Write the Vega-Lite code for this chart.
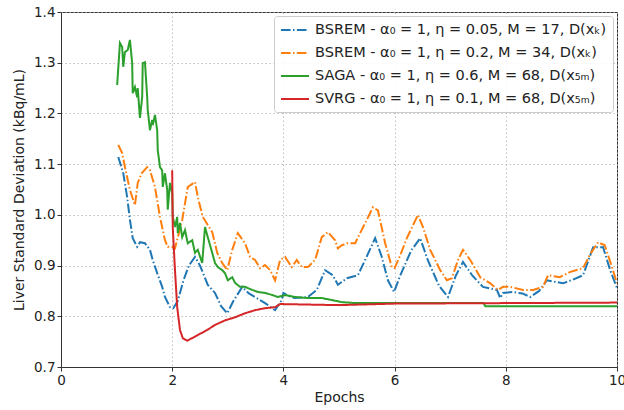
{
  "$schema": "https://vega.github.io/schema/vega-lite/v6.json",
  "width": 556,
  "height": 355,
  "autosize": "none",
  "padding": {"left": 61, "top": 12, "right": 7, "bottom": 43},
  "config": {
    "font": "DejaVu Sans",
    "view": {"stroke": "#333333", "strokeWidth": 1},
    "axis": {
      "labelFont": "DejaVu Sans", "labelFontSize": 13.5, "labelColor": "#222222",
      "titleFont": "DejaVu Sans", "titleFontSize": 14, "titleFontWeight": "normal", "titleColor": "#222222",
      "domainColor": "#333333", "tickColor": "#333333", "tickSize": 4,
      "gridColor": "#b0b0b0", "gridDash": [1.5, 2.5], "gridWidth": 0.8
    },
    "legend": {
      "orient": "top-right", "offset": 4, "title": null,
      "fillColor": "rgba(255,255,255,0.85)", "strokeColor": "#cccccc", "cornerRadius": 3,
      "padding": 6, "labelFont": "DejaVu Sans", "labelFontSize": 14.5, "labelColor": "#222222",
      "symbolType": "M-1,0H3", "symbolSize": 196, "symbolStrokeWidth": 2, "rowPadding": 8, "labelOffset": 19,
      "labelLimit": 400
    }
  },
  "data": {"values": [
    {"s":"BSREM - α₀ = 1, η = 0.05, M = 17, D(xₖ)","x":1.03,"y":1.114},
    {"s":"BSREM - α₀ = 1, η = 0.05, M = 17, D(xₖ)","x":1.12,"y":1.082},
    {"s":"BSREM - α₀ = 1, η = 0.05, M = 17, D(xₖ)","x":1.19,"y":1.035},
    {"s":"BSREM - α₀ = 1, η = 0.05, M = 17, D(xₖ)","x":1.24,"y":0.99},
    {"s":"BSREM - α₀ = 1, η = 0.05, M = 17, D(xₖ)","x":1.29,"y":0.954},
    {"s":"BSREM - α₀ = 1, η = 0.05, M = 17, D(xₖ)","x":1.37,"y":0.937},
    {"s":"BSREM - α₀ = 1, η = 0.05, M = 17, D(xₖ)","x":1.42,"y":0.946},
    {"s":"BSREM - α₀ = 1, η = 0.05, M = 17, D(xₖ)","x":1.51,"y":0.944},
    {"s":"BSREM - α₀ = 1, η = 0.05, M = 17, D(xₖ)","x":1.6,"y":0.931},
    {"s":"BSREM - α₀ = 1, η = 0.05, M = 17, D(xₖ)","x":1.65,"y":0.911},
    {"s":"BSREM - α₀ = 1, η = 0.05, M = 17, D(xₖ)","x":1.73,"y":0.885},
    {"s":"BSREM - α₀ = 1, η = 0.05, M = 17, D(xₖ)","x":1.82,"y":0.858},
    {"s":"BSREM - α₀ = 1, η = 0.05, M = 17, D(xₖ)","x":1.87,"y":0.838},
    {"s":"BSREM - α₀ = 1, η = 0.05, M = 17, D(xₖ)","x":1.96,"y":0.818},
    {"s":"BSREM - α₀ = 1, η = 0.05, M = 17, D(xₖ)","x":2.02,"y":0.816},
    {"s":"BSREM - α₀ = 1, η = 0.05, M = 17, D(xₖ)","x":2.1,"y":0.83},
    {"s":"BSREM - α₀ = 1, η = 0.05, M = 17, D(xₖ)","x":2.2,"y":0.87},
    {"s":"BSREM - α₀ = 1, η = 0.05, M = 17, D(xₖ)","x":2.3,"y":0.9},
    {"s":"BSREM - α₀ = 1, η = 0.05, M = 17, D(xₖ)","x":2.41,"y":0.917},
    {"s":"BSREM - α₀ = 1, η = 0.05, M = 17, D(xₖ)","x":2.5,"y":0.9},
    {"s":"BSREM - α₀ = 1, η = 0.05, M = 17, D(xₖ)","x":2.64,"y":0.862},
    {"s":"BSREM - α₀ = 1, η = 0.05, M = 17, D(xₖ)","x":2.77,"y":0.846},
    {"s":"BSREM - α₀ = 1, η = 0.05, M = 17, D(xₖ)","x":2.88,"y":0.82},
    {"s":"BSREM - α₀ = 1, η = 0.05, M = 17, D(xₖ)","x":2.99,"y":0.806},
    {"s":"BSREM - α₀ = 1, η = 0.05, M = 17, D(xₖ)","x":3.1,"y":0.83},
    {"s":"BSREM - α₀ = 1, η = 0.05, M = 17, D(xₖ)","x":3.26,"y":0.858},
    {"s":"BSREM - α₀ = 1, η = 0.05, M = 17, D(xₖ)","x":3.38,"y":0.845},
    {"s":"BSREM - α₀ = 1, η = 0.05, M = 17, D(xₖ)","x":3.49,"y":0.838},
    {"s":"BSREM - α₀ = 1, η = 0.05, M = 17, D(xₖ)","x":3.67,"y":0.826},
    {"s":"BSREM - α₀ = 1, η = 0.05, M = 17, D(xₖ)","x":3.85,"y":0.812},
    {"s":"BSREM - α₀ = 1, η = 0.05, M = 17, D(xₖ)","x":3.97,"y":0.832},
    {"s":"BSREM - α₀ = 1, η = 0.05, M = 17, D(xₖ)","x":4.0,"y":0.846},
    {"s":"BSREM - α₀ = 1, η = 0.05, M = 17, D(xₖ)","x":4.1,"y":0.84},
    {"s":"BSREM - α₀ = 1, η = 0.05, M = 17, D(xₖ)","x":4.2,"y":0.836},
    {"s":"BSREM - α₀ = 1, η = 0.05, M = 17, D(xₖ)","x":4.44,"y":0.838},
    {"s":"BSREM - α₀ = 1, η = 0.05, M = 17, D(xₖ)","x":4.6,"y":0.852},
    {"s":"BSREM - α₀ = 1, η = 0.05, M = 17, D(xₖ)","x":4.75,"y":0.891},
    {"s":"BSREM - α₀ = 1, η = 0.05, M = 17, D(xₖ)","x":4.89,"y":0.881},
    {"s":"BSREM - α₀ = 1, η = 0.05, M = 17, D(xₖ)","x":4.98,"y":0.862},
    {"s":"BSREM - α₀ = 1, η = 0.05, M = 17, D(xₖ)","x":5.14,"y":0.875},
    {"s":"BSREM - α₀ = 1, η = 0.05, M = 17, D(xₖ)","x":5.34,"y":0.881},
    {"s":"BSREM - α₀ = 1, η = 0.05, M = 17, D(xₖ)","x":5.47,"y":0.911},
    {"s":"BSREM - α₀ = 1, η = 0.05, M = 17, D(xₖ)","x":5.65,"y":0.954},
    {"s":"BSREM - α₀ = 1, η = 0.05, M = 17, D(xₖ)","x":5.77,"y":0.917},
    {"s":"BSREM - α₀ = 1, η = 0.05, M = 17, D(xₖ)","x":5.88,"y":0.871},
    {"s":"BSREM - α₀ = 1, η = 0.05, M = 17, D(xₖ)","x":5.99,"y":0.848},
    {"s":"BSREM - α₀ = 1, η = 0.05, M = 17, D(xₖ)","x":6.1,"y":0.88},
    {"s":"BSREM - α₀ = 1, η = 0.05, M = 17, D(xₖ)","x":6.3,"y":0.93},
    {"s":"BSREM - α₀ = 1, η = 0.05, M = 17, D(xₖ)","x":6.46,"y":0.954},
    {"s":"BSREM - α₀ = 1, η = 0.05, M = 17, D(xₖ)","x":6.6,"y":0.91},
    {"s":"BSREM - α₀ = 1, η = 0.05, M = 17, D(xₖ)","x":6.8,"y":0.86},
    {"s":"BSREM - α₀ = 1, η = 0.05, M = 17, D(xₖ)","x":6.96,"y":0.838},
    {"s":"BSREM - α₀ = 1, η = 0.05, M = 17, D(xₖ)","x":7.1,"y":0.88},
    {"s":"BSREM - α₀ = 1, η = 0.05, M = 17, D(xₖ)","x":7.23,"y":0.907},
    {"s":"BSREM - α₀ = 1, η = 0.05, M = 17, D(xₖ)","x":7.4,"y":0.88},
    {"s":"BSREM - α₀ = 1, η = 0.05, M = 17, D(xₖ)","x":7.59,"y":0.858},
    {"s":"BSREM - α₀ = 1, η = 0.05, M = 17, D(xₖ)","x":7.84,"y":0.852},
    {"s":"BSREM - α₀ = 1, η = 0.05, M = 17, D(xₖ)","x":7.9,"y":0.836},
    {"s":"BSREM - α₀ = 1, η = 0.05, M = 17, D(xₖ)","x":7.95,"y":0.846},
    {"s":"BSREM - α₀ = 1, η = 0.05, M = 17, D(xₖ)","x":8.11,"y":0.848},
    {"s":"BSREM - α₀ = 1, η = 0.05, M = 17, D(xₖ)","x":8.3,"y":0.845},
    {"s":"BSREM - α₀ = 1, η = 0.05, M = 17, D(xₖ)","x":8.44,"y":0.838},
    {"s":"BSREM - α₀ = 1, η = 0.05, M = 17, D(xₖ)","x":8.6,"y":0.85},
    {"s":"BSREM - α₀ = 1, η = 0.05, M = 17, D(xₖ)","x":8.74,"y":0.871},
    {"s":"BSREM - α₀ = 1, η = 0.05, M = 17, D(xₖ)","x":9.03,"y":0.865},
    {"s":"BSREM - α₀ = 1, η = 0.05, M = 17, D(xₖ)","x":9.2,"y":0.872},
    {"s":"BSREM - α₀ = 1, η = 0.05, M = 17, D(xₖ)","x":9.39,"y":0.881},
    {"s":"BSREM - α₀ = 1, η = 0.05, M = 17, D(xₖ)","x":9.57,"y":0.936},
    {"s":"BSREM - α₀ = 1, η = 0.05, M = 17, D(xₖ)","x":9.75,"y":0.936},
    {"s":"BSREM - α₀ = 1, η = 0.05, M = 17, D(xₖ)","x":9.88,"y":0.89},
    {"s":"BSREM - α₀ = 1, η = 0.05, M = 17, D(xₖ)","x":10.0,"y":0.856},

    {"s":"BSREM - α₀ = 1, η = 0.2, M = 34, D(xₖ)","x":1.03,"y":1.138},
    {"s":"BSREM - α₀ = 1, η = 0.2, M = 34, D(xₖ)","x":1.1,"y":1.122},
    {"s":"BSREM - α₀ = 1, η = 0.2, M = 34, D(xₖ)","x":1.15,"y":1.094},
    {"s":"BSREM - α₀ = 1, η = 0.2, M = 34, D(xₖ)","x":1.24,"y":1.049},
    {"s":"BSREM - α₀ = 1, η = 0.2, M = 34, D(xₖ)","x":1.33,"y":1.019},
    {"s":"BSREM - α₀ = 1, η = 0.2, M = 34, D(xₖ)","x":1.38,"y":1.063},
    {"s":"BSREM - α₀ = 1, η = 0.2, M = 34, D(xₖ)","x":1.45,"y":1.082},
    {"s":"BSREM - α₀ = 1, η = 0.2, M = 34, D(xₖ)","x":1.55,"y":1.094},
    {"s":"BSREM - α₀ = 1, η = 0.2, M = 34, D(xₖ)","x":1.6,"y":1.088},
    {"s":"BSREM - α₀ = 1, η = 0.2, M = 34, D(xₖ)","x":1.69,"y":1.055},
    {"s":"BSREM - α₀ = 1, η = 0.2, M = 34, D(xₖ)","x":1.78,"y":0.996},
    {"s":"BSREM - α₀ = 1, η = 0.2, M = 34, D(xₖ)","x":1.87,"y":0.95},
    {"s":"BSREM - α₀ = 1, η = 0.2, M = 34, D(xₖ)","x":1.92,"y":0.937},
    {"s":"BSREM - α₀ = 1, η = 0.2, M = 34, D(xₖ)","x":1.99,"y":0.937},
    {"s":"BSREM - α₀ = 1, η = 0.2, M = 34, D(xₖ)","x":2.05,"y":0.934},
    {"s":"BSREM - α₀ = 1, η = 0.2, M = 34, D(xₖ)","x":2.1,"y":0.955},
    {"s":"BSREM - α₀ = 1, η = 0.2, M = 34, D(xₖ)","x":2.18,"y":0.99},
    {"s":"BSREM - α₀ = 1, η = 0.2, M = 34, D(xₖ)","x":2.28,"y":1.055},
    {"s":"BSREM - α₀ = 1, η = 0.2, M = 34, D(xₖ)","x":2.41,"y":1.065},
    {"s":"BSREM - α₀ = 1, η = 0.2, M = 34, D(xₖ)","x":2.46,"y":1.035},
    {"s":"BSREM - α₀ = 1, η = 0.2, M = 34, D(xₖ)","x":2.55,"y":0.996},
    {"s":"BSREM - α₀ = 1, η = 0.2, M = 34, D(xₖ)","x":2.72,"y":0.966},
    {"s":"BSREM - α₀ = 1, η = 0.2, M = 34, D(xₖ)","x":2.81,"y":0.925},
    {"s":"BSREM - α₀ = 1, η = 0.2, M = 34, D(xₖ)","x":2.9,"y":0.905},
    {"s":"BSREM - α₀ = 1, η = 0.2, M = 34, D(xₖ)","x":2.99,"y":0.891},
    {"s":"BSREM - α₀ = 1, η = 0.2, M = 34, D(xₖ)","x":3.08,"y":0.931},
    {"s":"BSREM - α₀ = 1, η = 0.2, M = 34, D(xₖ)","x":3.18,"y":0.964},
    {"s":"BSREM - α₀ = 1, η = 0.2, M = 34, D(xₖ)","x":3.31,"y":0.944},
    {"s":"BSREM - α₀ = 1, η = 0.2, M = 34, D(xₖ)","x":3.4,"y":0.917},
    {"s":"BSREM - α₀ = 1, η = 0.2, M = 34, D(xₖ)","x":3.49,"y":0.911},
    {"s":"BSREM - α₀ = 1, η = 0.2, M = 34, D(xₖ)","x":3.58,"y":0.895},
    {"s":"BSREM - α₀ = 1, η = 0.2, M = 34, D(xₖ)","x":3.67,"y":0.901},
    {"s":"BSREM - α₀ = 1, η = 0.2, M = 34, D(xₖ)","x":3.76,"y":0.891},
    {"s":"BSREM - α₀ = 1, η = 0.2, M = 34, D(xₖ)","x":3.85,"y":0.871},
    {"s":"BSREM - α₀ = 1, η = 0.2, M = 34, D(xₖ)","x":3.94,"y":0.911},
    {"s":"BSREM - α₀ = 1, η = 0.2, M = 34, D(xₖ)","x":4.03,"y":0.917},
    {"s":"BSREM - α₀ = 1, η = 0.2, M = 34, D(xₖ)","x":4.15,"y":0.897},
    {"s":"BSREM - α₀ = 1, η = 0.2, M = 34, D(xₖ)","x":4.24,"y":0.911},
    {"s":"BSREM - α₀ = 1, η = 0.2, M = 34, D(xₖ)","x":4.33,"y":0.897},
    {"s":"BSREM - α₀ = 1, η = 0.2, M = 34, D(xₖ)","x":4.44,"y":0.897},
    {"s":"BSREM - α₀ = 1, η = 0.2, M = 34, D(xₖ)","x":4.57,"y":0.911},
    {"s":"BSREM - α₀ = 1, η = 0.2, M = 34, D(xₖ)","x":4.69,"y":0.956},
    {"s":"BSREM - α₀ = 1, η = 0.2, M = 34, D(xₖ)","x":4.8,"y":0.966},
    {"s":"BSREM - α₀ = 1, η = 0.2, M = 34, D(xₖ)","x":4.93,"y":0.95},
    {"s":"BSREM - α₀ = 1, η = 0.2, M = 34, D(xₖ)","x":4.98,"y":0.934},
    {"s":"BSREM - α₀ = 1, η = 0.2, M = 34, D(xₖ)","x":5.05,"y":0.94},
    {"s":"BSREM - α₀ = 1, η = 0.2, M = 34, D(xₖ)","x":5.14,"y":0.944},
    {"s":"BSREM - α₀ = 1, η = 0.2, M = 34, D(xₖ)","x":5.29,"y":0.944},
    {"s":"BSREM - α₀ = 1, η = 0.2, M = 34, D(xₖ)","x":5.38,"y":0.964},
    {"s":"BSREM - α₀ = 1, η = 0.2, M = 34, D(xₖ)","x":5.5,"y":0.99},
    {"s":"BSREM - α₀ = 1, η = 0.2, M = 34, D(xₖ)","x":5.61,"y":1.015},
    {"s":"BSREM - α₀ = 1, η = 0.2, M = 34, D(xₖ)","x":5.7,"y":1.009},
    {"s":"BSREM - α₀ = 1, η = 0.2, M = 34, D(xₖ)","x":5.83,"y":0.944},
    {"s":"BSREM - α₀ = 1, η = 0.2, M = 34, D(xₖ)","x":5.95,"y":0.897},
    {"s":"BSREM - α₀ = 1, η = 0.2, M = 34, D(xₖ)","x":6.0,"y":0.895},
    {"s":"BSREM - α₀ = 1, η = 0.2, M = 34, D(xₖ)","x":6.1,"y":0.92},
    {"s":"BSREM - α₀ = 1, η = 0.2, M = 34, D(xₖ)","x":6.22,"y":0.954},
    {"s":"BSREM - α₀ = 1, η = 0.2, M = 34, D(xₖ)","x":6.42,"y":1.0},
    {"s":"BSREM - α₀ = 1, η = 0.2, M = 34, D(xₖ)","x":6.51,"y":0.976},
    {"s":"BSREM - α₀ = 1, η = 0.2, M = 34, D(xₖ)","x":6.64,"y":0.931},
    {"s":"BSREM - α₀ = 1, η = 0.2, M = 34, D(xₖ)","x":6.82,"y":0.891},
    {"s":"BSREM - α₀ = 1, η = 0.2, M = 34, D(xₖ)","x":6.94,"y":0.871},
    {"s":"BSREM - α₀ = 1, η = 0.2, M = 34, D(xₖ)","x":7.03,"y":0.875},
    {"s":"BSREM - α₀ = 1, η = 0.2, M = 34, D(xₖ)","x":7.14,"y":0.911},
    {"s":"BSREM - α₀ = 1, η = 0.2, M = 34, D(xₖ)","x":7.23,"y":0.931},
    {"s":"BSREM - α₀ = 1, η = 0.2, M = 34, D(xₖ)","x":7.36,"y":0.911},
    {"s":"BSREM - α₀ = 1, η = 0.2, M = 34, D(xₖ)","x":7.54,"y":0.877},
    {"s":"BSREM - α₀ = 1, η = 0.2, M = 34, D(xₖ)","x":7.72,"y":0.865},
    {"s":"BSREM - α₀ = 1, η = 0.2, M = 34, D(xₖ)","x":7.86,"y":0.852},
    {"s":"BSREM - α₀ = 1, η = 0.2, M = 34, D(xₖ)","x":7.95,"y":0.858},
    {"s":"BSREM - α₀ = 1, η = 0.2, M = 34, D(xₖ)","x":8.08,"y":0.858},
    {"s":"BSREM - α₀ = 1, η = 0.2, M = 34, D(xₖ)","x":8.31,"y":0.852},
    {"s":"BSREM - α₀ = 1, η = 0.2, M = 34, D(xₖ)","x":8.49,"y":0.852},
    {"s":"BSREM - α₀ = 1, η = 0.2, M = 34, D(xₖ)","x":8.67,"y":0.858},
    {"s":"BSREM - α₀ = 1, η = 0.2, M = 34, D(xₖ)","x":8.76,"y":0.881},
    {"s":"BSREM - α₀ = 1, η = 0.2, M = 34, D(xₖ)","x":8.97,"y":0.877},
    {"s":"BSREM - α₀ = 1, η = 0.2, M = 34, D(xₖ)","x":9.15,"y":0.887},
    {"s":"BSREM - α₀ = 1, η = 0.2, M = 34, D(xₖ)","x":9.39,"y":0.895},
    {"s":"BSREM - α₀ = 1, η = 0.2, M = 34, D(xₖ)","x":9.51,"y":0.921},
    {"s":"BSREM - α₀ = 1, η = 0.2, M = 34, D(xₖ)","x":9.66,"y":0.946},
    {"s":"BSREM - α₀ = 1, η = 0.2, M = 34, D(xₖ)","x":9.78,"y":0.94},
    {"s":"BSREM - α₀ = 1, η = 0.2, M = 34, D(xₖ)","x":9.91,"y":0.897},
    {"s":"BSREM - α₀ = 1, η = 0.2, M = 34, D(xₖ)","x":10.0,"y":0.865},

    {"s":"SAGA - α₀ = 1, η = 0.6, M = 68, D(x₅ₘ)","x":1.01,"y":1.256},
    {"s":"SAGA - α₀ = 1, η = 0.6, M = 68, D(x₅ₘ)","x":1.06,"y":1.339},
    {"s":"SAGA - α₀ = 1, η = 0.6, M = 68, D(x₅ₘ)","x":1.1,"y":1.331},
    {"s":"SAGA - α₀ = 1, η = 0.6, M = 68, D(x₅ₘ)","x":1.12,"y":1.292},
    {"s":"SAGA - α₀ = 1, η = 0.6, M = 68, D(x₅ₘ)","x":1.15,"y":1.321},
    {"s":"SAGA - α₀ = 1, η = 0.6, M = 68, D(x₅ₘ)","x":1.2,"y":1.325},
    {"s":"SAGA - α₀ = 1, η = 0.6, M = 68, D(x₅ₘ)","x":1.24,"y":1.345},
    {"s":"SAGA - α₀ = 1, η = 0.6, M = 68, D(x₅ₘ)","x":1.28,"y":1.299},
    {"s":"SAGA - α₀ = 1, η = 0.6, M = 68, D(x₅ₘ)","x":1.29,"y":1.24},
    {"s":"SAGA - α₀ = 1, η = 0.6, M = 68, D(x₅ₘ)","x":1.33,"y":1.252},
    {"s":"SAGA - α₀ = 1, η = 0.6, M = 68, D(x₅ₘ)","x":1.37,"y":1.232},
    {"s":"SAGA - α₀ = 1, η = 0.6, M = 68, D(x₅ₘ)","x":1.38,"y":1.25},
    {"s":"SAGA - α₀ = 1, η = 0.6, M = 68, D(x₅ₘ)","x":1.42,"y":1.191},
    {"s":"SAGA - α₀ = 1, η = 0.6, M = 68, D(x₅ₘ)","x":1.46,"y":1.232},
    {"s":"SAGA - α₀ = 1, η = 0.6, M = 68, D(x₅ₘ)","x":1.47,"y":1.299},
    {"s":"SAGA - α₀ = 1, η = 0.6, M = 68, D(x₅ₘ)","x":1.51,"y":1.301},
    {"s":"SAGA - α₀ = 1, η = 0.6, M = 68, D(x₅ₘ)","x":1.55,"y":1.232},
    {"s":"SAGA - α₀ = 1, η = 0.6, M = 68, D(x₅ₘ)","x":1.56,"y":1.207},
    {"s":"SAGA - α₀ = 1, η = 0.6, M = 68, D(x₅ₘ)","x":1.6,"y":1.167},
    {"s":"SAGA - α₀ = 1, η = 0.6, M = 68, D(x₅ₘ)","x":1.64,"y":1.187},
    {"s":"SAGA - α₀ = 1, η = 0.6, M = 68, D(x₅ₘ)","x":1.65,"y":1.177},
    {"s":"SAGA - α₀ = 1, η = 0.6, M = 68, D(x₅ₘ)","x":1.69,"y":1.197},
    {"s":"SAGA - α₀ = 1, η = 0.6, M = 68, D(x₅ₘ)","x":1.73,"y":1.167},
    {"s":"SAGA - α₀ = 1, η = 0.6, M = 68, D(x₅ₘ)","x":1.74,"y":1.128},
    {"s":"SAGA - α₀ = 1, η = 0.6, M = 68, D(x₅ₘ)","x":1.78,"y":1.094},
    {"s":"SAGA - α₀ = 1, η = 0.6, M = 68, D(x₅ₘ)","x":1.82,"y":1.088},
    {"s":"SAGA - α₀ = 1, η = 0.6, M = 68, D(x₅ₘ)","x":1.83,"y":1.055},
    {"s":"SAGA - α₀ = 1, η = 0.6, M = 68, D(x₅ₘ)","x":1.87,"y":1.082},
    {"s":"SAGA - α₀ = 1, η = 0.6, M = 68, D(x₅ₘ)","x":1.91,"y":1.049},
    {"s":"SAGA - α₀ = 1, η = 0.6, M = 68, D(x₅ₘ)","x":1.92,"y":1.01},
    {"s":"SAGA - α₀ = 1, η = 0.6, M = 68, D(x₅ₘ)","x":1.96,"y":1.063},
    {"s":"SAGA - α₀ = 1, η = 0.6, M = 68, D(x₅ₘ)","x":2.0,"y":1.043},
    {"s":"SAGA - α₀ = 1, η = 0.6, M = 68, D(x₅ₘ)","x":2.01,"y":0.996},
    {"s":"SAGA - α₀ = 1, η = 0.6, M = 68, D(x₅ₘ)","x":2.05,"y":0.976},
    {"s":"SAGA - α₀ = 1, η = 0.6, M = 68, D(x₅ₘ)","x":2.09,"y":0.996},
    {"s":"SAGA - α₀ = 1, η = 0.6, M = 68, D(x₅ₘ)","x":2.1,"y":0.964},
    {"s":"SAGA - α₀ = 1, η = 0.6, M = 68, D(x₅ₘ)","x":2.14,"y":0.984},
    {"s":"SAGA - α₀ = 1, η = 0.6, M = 68, D(x₅ₘ)","x":2.18,"y":0.956},
    {"s":"SAGA - α₀ = 1, η = 0.6, M = 68, D(x₅ₘ)","x":2.23,"y":0.97},
    {"s":"SAGA - α₀ = 1, η = 0.6, M = 68, D(x₅ₘ)","x":2.28,"y":0.944},
    {"s":"SAGA - α₀ = 1, η = 0.6, M = 68, D(x₅ₘ)","x":2.36,"y":0.95},
    {"s":"SAGA - α₀ = 1, η = 0.6, M = 68, D(x₅ₘ)","x":2.41,"y":0.925},
    {"s":"SAGA - α₀ = 1, η = 0.6, M = 68, D(x₅ₘ)","x":2.46,"y":0.931},
    {"s":"SAGA - α₀ = 1, η = 0.6, M = 68, D(x₅ₘ)","x":2.54,"y":0.905},
    {"s":"SAGA - α₀ = 1, η = 0.6, M = 68, D(x₅ₘ)","x":2.59,"y":0.976},
    {"s":"SAGA - α₀ = 1, η = 0.6, M = 68, D(x₅ₘ)","x":2.64,"y":0.956},
    {"s":"SAGA - α₀ = 1, η = 0.6, M = 68, D(x₅ₘ)","x":2.72,"y":0.925},
    {"s":"SAGA - α₀ = 1, η = 0.6, M = 68, D(x₅ₘ)","x":2.77,"y":0.905},
    {"s":"SAGA - α₀ = 1, η = 0.6, M = 68, D(x₅ₘ)","x":2.82,"y":0.897},
    {"s":"SAGA - α₀ = 1, η = 0.6, M = 68, D(x₅ₘ)","x":2.9,"y":0.891},
    {"s":"SAGA - α₀ = 1, η = 0.6, M = 68, D(x₅ₘ)","x":2.95,"y":0.885},
    {"s":"SAGA - α₀ = 1, η = 0.6, M = 68, D(x₅ₘ)","x":3.0,"y":0.871},
    {"s":"SAGA - α₀ = 1, η = 0.6, M = 68, D(x₅ₘ)","x":3.08,"y":0.877},
    {"s":"SAGA - α₀ = 1, η = 0.6, M = 68, D(x₅ₘ)","x":3.13,"y":0.866},
    {"s":"SAGA - α₀ = 1, η = 0.6, M = 68, D(x₅ₘ)","x":3.22,"y":0.858},
    {"s":"SAGA - α₀ = 1, η = 0.6, M = 68, D(x₅ₘ)","x":3.31,"y":0.858},
    {"s":"SAGA - α₀ = 1, η = 0.6, M = 68, D(x₅ₘ)","x":3.44,"y":0.852},
    {"s":"SAGA - α₀ = 1, η = 0.6, M = 68, D(x₅ₘ)","x":3.54,"y":0.848},
    {"s":"SAGA - α₀ = 1, η = 0.6, M = 68, D(x₅ₘ)","x":3.67,"y":0.846},
    {"s":"SAGA - α₀ = 1, η = 0.6, M = 68, D(x₅ₘ)","x":3.8,"y":0.842},
    {"s":"SAGA - α₀ = 1, η = 0.6, M = 68, D(x₅ₘ)","x":3.9,"y":0.838},
    {"s":"SAGA - α₀ = 1, η = 0.6, M = 68, D(x₅ₘ)","x":4.03,"y":0.842},
    {"s":"SAGA - α₀ = 1, η = 0.6, M = 68, D(x₅ₘ)","x":4.21,"y":0.838},
    {"s":"SAGA - α₀ = 1, η = 0.6, M = 68, D(x₅ₘ)","x":4.44,"y":0.836},
    {"s":"SAGA - α₀ = 1, η = 0.6, M = 68, D(x₅ₘ)","x":4.69,"y":0.836},
    {"s":"SAGA - α₀ = 1, η = 0.6, M = 68, D(x₅ₘ)","x":4.87,"y":0.832},
    {"s":"SAGA - α₀ = 1, η = 0.6, M = 68, D(x₅ₘ)","x":5.05,"y":0.828},
    {"s":"SAGA - α₀ = 1, η = 0.6, M = 68, D(x₅ₘ)","x":5.29,"y":0.826},
    {"s":"SAGA - α₀ = 1, η = 0.6, M = 68, D(x₅ₘ)","x":5.6,"y":0.826},
    {"s":"SAGA - α₀ = 1, η = 0.6, M = 68, D(x₅ₘ)","x":6.0,"y":0.826},
    {"s":"SAGA - α₀ = 1, η = 0.6, M = 68, D(x₅ₘ)","x":7.0,"y":0.826},
    {"s":"SAGA - α₀ = 1, η = 0.6, M = 68, D(x₅ₘ)","x":7.6,"y":0.826},
    {"s":"SAGA - α₀ = 1, η = 0.6, M = 68, D(x₅ₘ)","x":7.63,"y":0.82},
    {"s":"SAGA - α₀ = 1, η = 0.6, M = 68, D(x₅ₘ)","x":8.5,"y":0.82},
    {"s":"SAGA - α₀ = 1, η = 0.6, M = 68, D(x₅ₘ)","x":10.0,"y":0.82},

    {"s":"SVRG - α₀ = 1, η = 0.1, M = 68, D(x₅ₘ)","x":2.0,"y":1.088},
    {"s":"SVRG - α₀ = 1, η = 0.1, M = 68, D(x₅ₘ)","x":2.01,"y":0.976},
    {"s":"SVRG - α₀ = 1, η = 0.1, M = 68, D(x₅ₘ)","x":2.05,"y":0.891},
    {"s":"SVRG - α₀ = 1, η = 0.1, M = 68, D(x₅ₘ)","x":2.09,"y":0.818},
    {"s":"SVRG - α₀ = 1, η = 0.1, M = 68, D(x₅ₘ)","x":2.14,"y":0.773},
    {"s":"SVRG - α₀ = 1, η = 0.1, M = 68, D(x₅ₘ)","x":2.19,"y":0.757},
    {"s":"SVRG - α₀ = 1, η = 0.1, M = 68, D(x₅ₘ)","x":2.27,"y":0.752},
    {"s":"SVRG - α₀ = 1, η = 0.1, M = 68, D(x₅ₘ)","x":2.36,"y":0.757},
    {"s":"SVRG - α₀ = 1, η = 0.1, M = 68, D(x₅ₘ)","x":2.46,"y":0.763},
    {"s":"SVRG - α₀ = 1, η = 0.1, M = 68, D(x₅ₘ)","x":2.63,"y":0.773},
    {"s":"SVRG - α₀ = 1, η = 0.1, M = 68, D(x₅ₘ)","x":2.77,"y":0.783},
    {"s":"SVRG - α₀ = 1, η = 0.1, M = 68, D(x₅ₘ)","x":2.95,"y":0.792},
    {"s":"SVRG - α₀ = 1, η = 0.1, M = 68, D(x₅ₘ)","x":3.13,"y":0.798},
    {"s":"SVRG - α₀ = 1, η = 0.1, M = 68, D(x₅ₘ)","x":3.31,"y":0.806},
    {"s":"SVRG - α₀ = 1, η = 0.1, M = 68, D(x₅ₘ)","x":3.49,"y":0.812},
    {"s":"SVRG - α₀ = 1, η = 0.1, M = 68, D(x₅ₘ)","x":3.67,"y":0.816},
    {"s":"SVRG - α₀ = 1, η = 0.1, M = 68, D(x₅ₘ)","x":3.85,"y":0.818},
    {"s":"SVRG - α₀ = 1, η = 0.1, M = 68, D(x₅ₘ)","x":3.94,"y":0.824},
    {"s":"SVRG - α₀ = 1, η = 0.1, M = 68, D(x₅ₘ)","x":4.0,"y":0.824},
    {"s":"SVRG - α₀ = 1, η = 0.1, M = 68, D(x₅ₘ)","x":5.0,"y":0.822},
    {"s":"SVRG - α₀ = 1, η = 0.1, M = 68, D(x₅ₘ)","x":6.0,"y":0.825},
    {"s":"SVRG - α₀ = 1, η = 0.1, M = 68, D(x₅ₘ)","x":8.0,"y":0.826},
    {"s":"SVRG - α₀ = 1, η = 0.1, M = 68, D(x₅ₘ)","x":10.0,"y":0.827}
  ]},
  "mark": {"type": "line", "strokeWidth": 2, "clip": true},
  "encoding": {
    "x": {"field": "x", "type": "quantitative", "title": "Epochs",
          "scale": {"domain": [0, 10], "nice": false},
          "axis": {"values": [0, 2, 4, 6, 8, 10], "grid": true, "labelFlush": false, "titlePadding": 4}},
    "y": {"field": "y", "type": "quantitative", "title": "Liver Standard Deviation (kBq/mL)",
          "scale": {"domain": [0.7, 1.4], "nice": false, "zero": false},
          "axis": {"values": [0.7, 0.8, 0.9, 1.0, 1.1, 1.2, 1.3, 1.4], "format": ".1f", "grid": true, "titlePadding": 7}},
    "color": {"field": "s", "type": "nominal",
      "scale": {"domain": ["BSREM - α₀ = 1, η = 0.05, M = 17, D(xₖ)", "BSREM - α₀ = 1, η = 0.2, M = 34, D(xₖ)", "SAGA - α₀ = 1, η = 0.6, M = 68, D(x₅ₘ)", "SVRG - α₀ = 1, η = 0.1, M = 68, D(x₅ₘ)"],
                "range": ["#1f77b4", "#ff7f0e", "#2ca02c", "#d62728"]}},
    "strokeDash": {"field": "s", "type": "nominal",
      "scale": {"domain": ["BSREM - α₀ = 1, η = 0.05, M = 17, D(xₖ)", "BSREM - α₀ = 1, η = 0.2, M = 34, D(xₖ)", "SAGA - α₀ = 1, η = 0.6, M = 68, D(x₅ₘ)", "SVRG - α₀ = 1, η = 0.1, M = 68, D(x₅ₘ)"],
                "range": [[9.6, 2.4, 1.5, 2.4], [9.6, 2.4, 1.5, 2.4], [1, 0], [1, 0]]}},
    "order": {"field": "x", "type": "quantitative"}
  }
}
